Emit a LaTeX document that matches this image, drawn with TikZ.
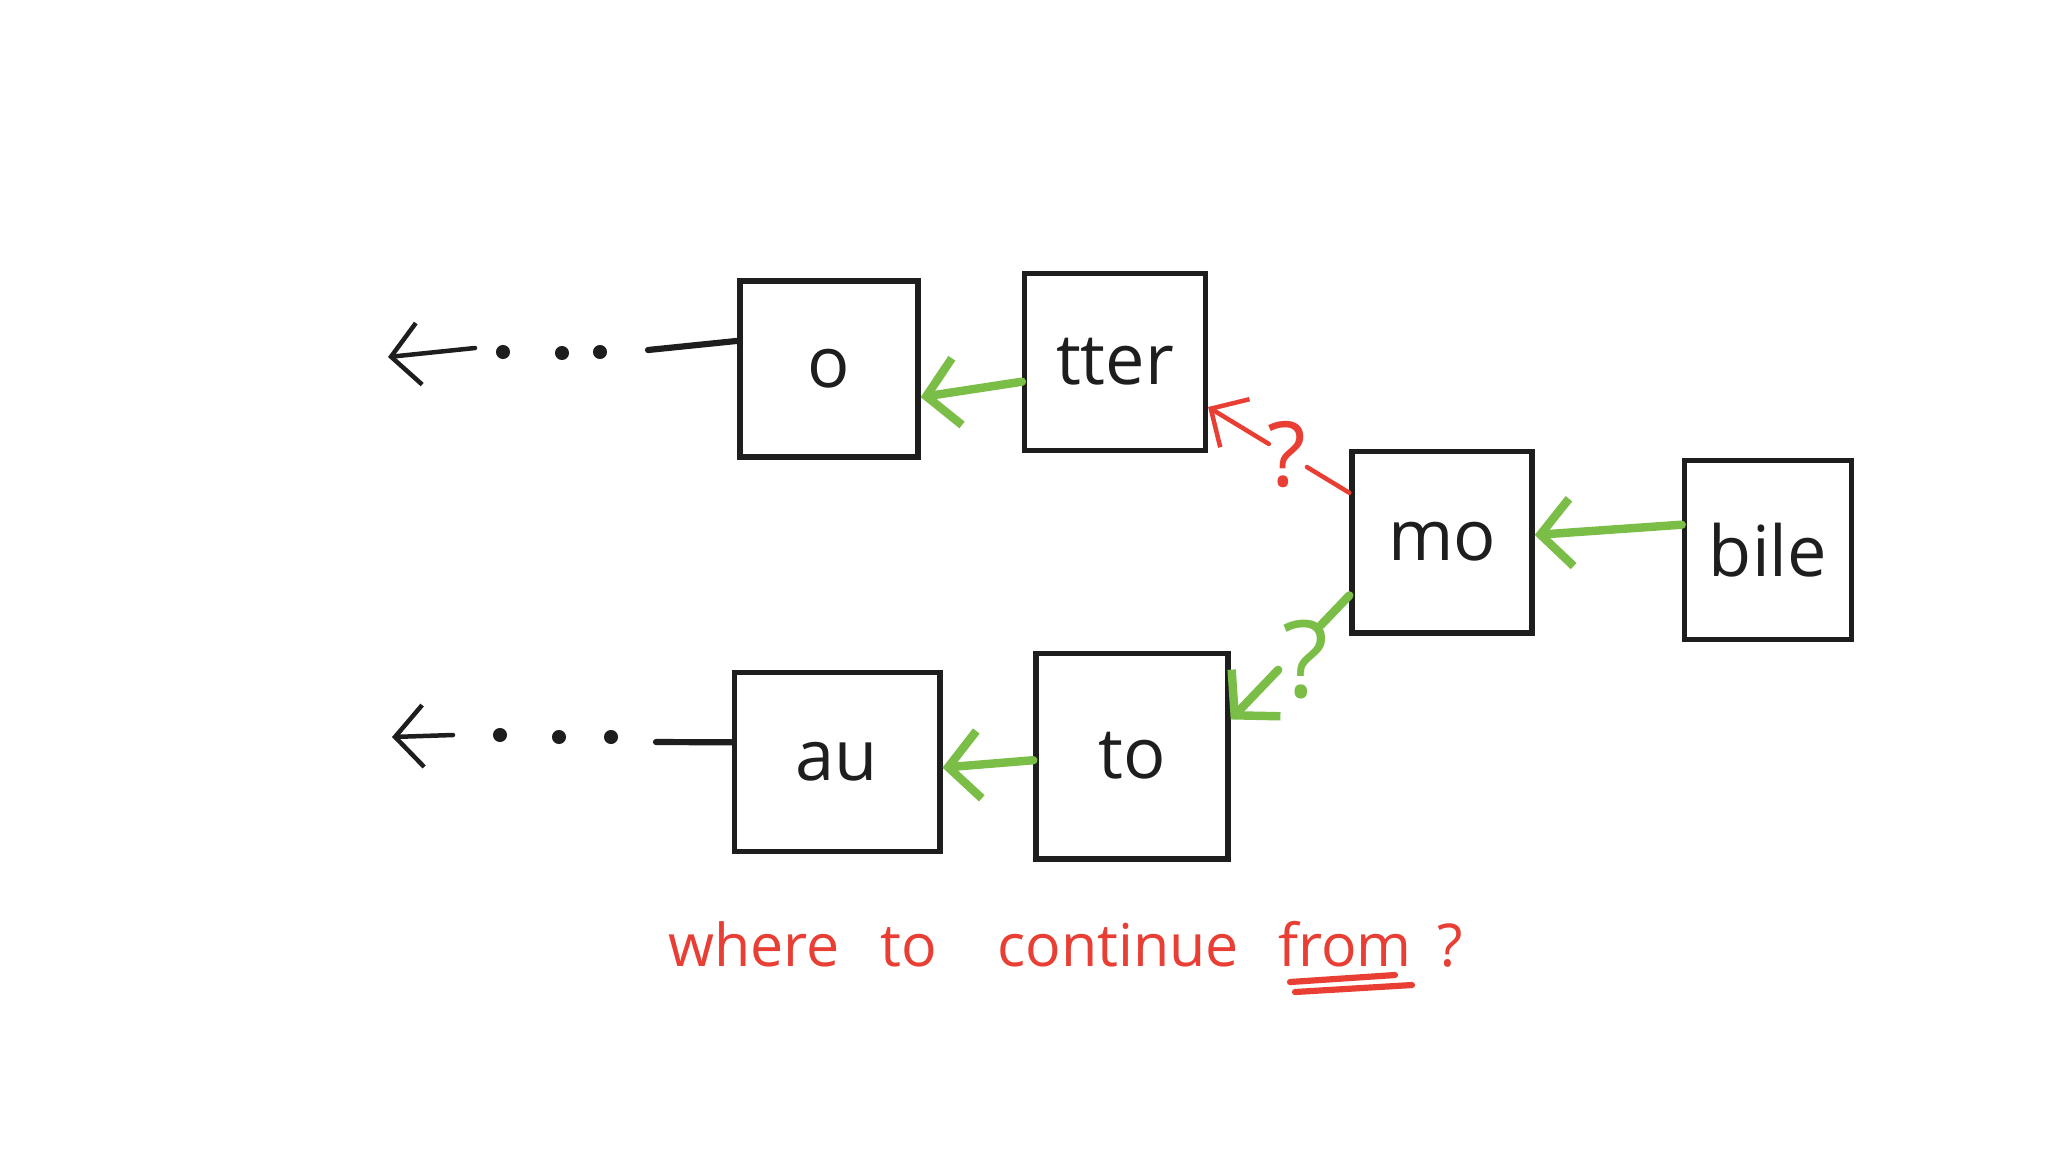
\documentclass[tikz,border=0pt]{standalone}
\usepackage{fontspec}
\setmainfont{Open Sans}
\usetikzlibrary{arrows.meta,calc}
\definecolor{inkblack}{RGB}{30,30,30}
\definecolor{inkgreen}{RGB}{122,190,72}
\definecolor{inkred}{RGB}{232,62,52}
\tikzset{
  box/.style={draw=inkblack,line width=1.9pt,inner sep=0pt,font=\fontsize{25}{30}\selectfont,text=inkblack},
  garrow/.style={draw=inkgreen,line width=3pt,line cap=round,-{Straight Barb[length=11pt,width=24pt,line width=3pt]}},
  gline/.style={draw=inkgreen,line width=3pt,line cap=round},
  rarrow/.style={draw=inkred,line width=1.6pt,line cap=round,-{Straight Barb[length=10pt,width=20pt,line width=1.6pt]}},
  rline/.style={draw=inkred,line width=1.6pt,line cap=round},
  karrow/.style={draw=inkblack,line width=1.6pt,line cap=round,-{Straight Barb[length=10pt,width=22pt,line width=1.6pt]}},
  kline/.style={draw=inkblack,line width=2.2pt,line cap=round},
  dotk/.style={circle,fill=inkblack,inner sep=0pt,minimum size=5pt},
  qmark/.style={text=#1,inner sep=0pt},
  redword/.style={text=inkred,anchor=base,inner sep=0pt,font=\fontsize{21}{26}\selectfont}
}
\begin{document}
\begin{tikzpicture}[x=0.0125cm,y=-0.0125cm]
\useasboundingbox[fill=white] (0,0) rectangle (2048,1152);
% boxes
\node[box,minimum width=2.225cm,minimum height=2.2cm] (o) at (829,369) {o};
\node[box,minimum width=2.26cm,minimum height=2.21cm] (tter) at (1115,362) {tter};
\node[box,minimum width=2.25cm,minimum height=2.27cm] (mo) at (1442,542) {mo};
\node[box,minimum width=2.09cm,minimum height=2.24cm] (bile) at (1768,550) {bile};
\node[box,minimum width=2.57cm,minimum height=2.24cm] (au) at (837,762) {au};
\node[box,minimum width=2.4cm,minimum height=2.57cm] (to) at (1132,756) {to};
% green arrows
\draw[garrow] ([yshift=-7pt]tter.west) -- ([yshift=-10pt]o.east);
\draw[garrow] ([yshift=9pt]bile.west) -- ([yshift=2.5pt]mo.east);
\draw[garrow] ([yshift=-1.5pt]to.west) -- ([yshift=-2pt]au.east);
% mo -> to (green, with ?)
\coordinate (ms) at ([yshift=-19pt]mo.west);
\coordinate (te) at ([yshift=13pt]to.east);
\draw[gline] (ms) -- ($(ms)!0.24!(te)$);
\draw[garrow] ($(ms)!0.6!(te)$) -- (te);
\node[qmark=inkgreen,font=\fontsize{38}{40}\selectfont] (gq) at ($(ms)!0.42!(te)+(6,12)$) {?};
% mo -> tter (red, with ?)
\coordinate (rs) at ([yshift=17.5pt]mo.west);
\coordinate (re) at ([yshift=-16pt]tter.east);
\draw[rline] (rs) -- ($(rs)!0.3!(re)$);
\draw[rarrow] ($(rs)!0.57!(re)$) -- (re);
\node[qmark=inkred,font=\fontsize{32}{36}\selectfont] (rq) at ($(rs)!0.44!(re)+(0,-1)$) {?};
% top continuation
\coordinate (t1) at (648,350);
\node[dotk] (td1) at (600,352) {};
\node[dotk] (td2) at (562,353) {};
\node[dotk] (td3) at (503,352) {};
\coordinate (t2) at (475,348);
\coordinate (t3) at (388,357);
\draw[kline] ([yshift=10pt]o.west) -- (t1);
\draw[karrow] (t2) -- (t3);
% bottom continuation
\coordinate (b1) at (656,742);
\node[dotk] (bd1) at (611,737) {};
\node[dotk] (bd2) at (559,737) {};
\node[dotk] (bd3) at (500,735) {};
\coordinate (b2) at (453,735);
\coordinate (b3) at (392,737);
\draw[kline] ([yshift=7pt]au.west) -- (b1);
\draw[karrow] (b2) -- (b3);
% red question
\node[redword] (w1) at (754,966) {where};
\node[redword] (w2) at (909,966) {to};
\node[redword] (w3) at (1118,966) {continue};
\node[redword] (w4) at (1345,966) {from};
\node[redword] (w5) at (1450,966) {?};
\draw[rline,line width=2.2pt] ($(w4.base)+(-55,16)$) -- ($(w4.base)+(50,9)$);
\draw[rline,line width=2.2pt] ($(w4.base)+(-50,26)$) -- ($(w4.base)+(67,19)$);
\end{tikzpicture}
\end{document}
